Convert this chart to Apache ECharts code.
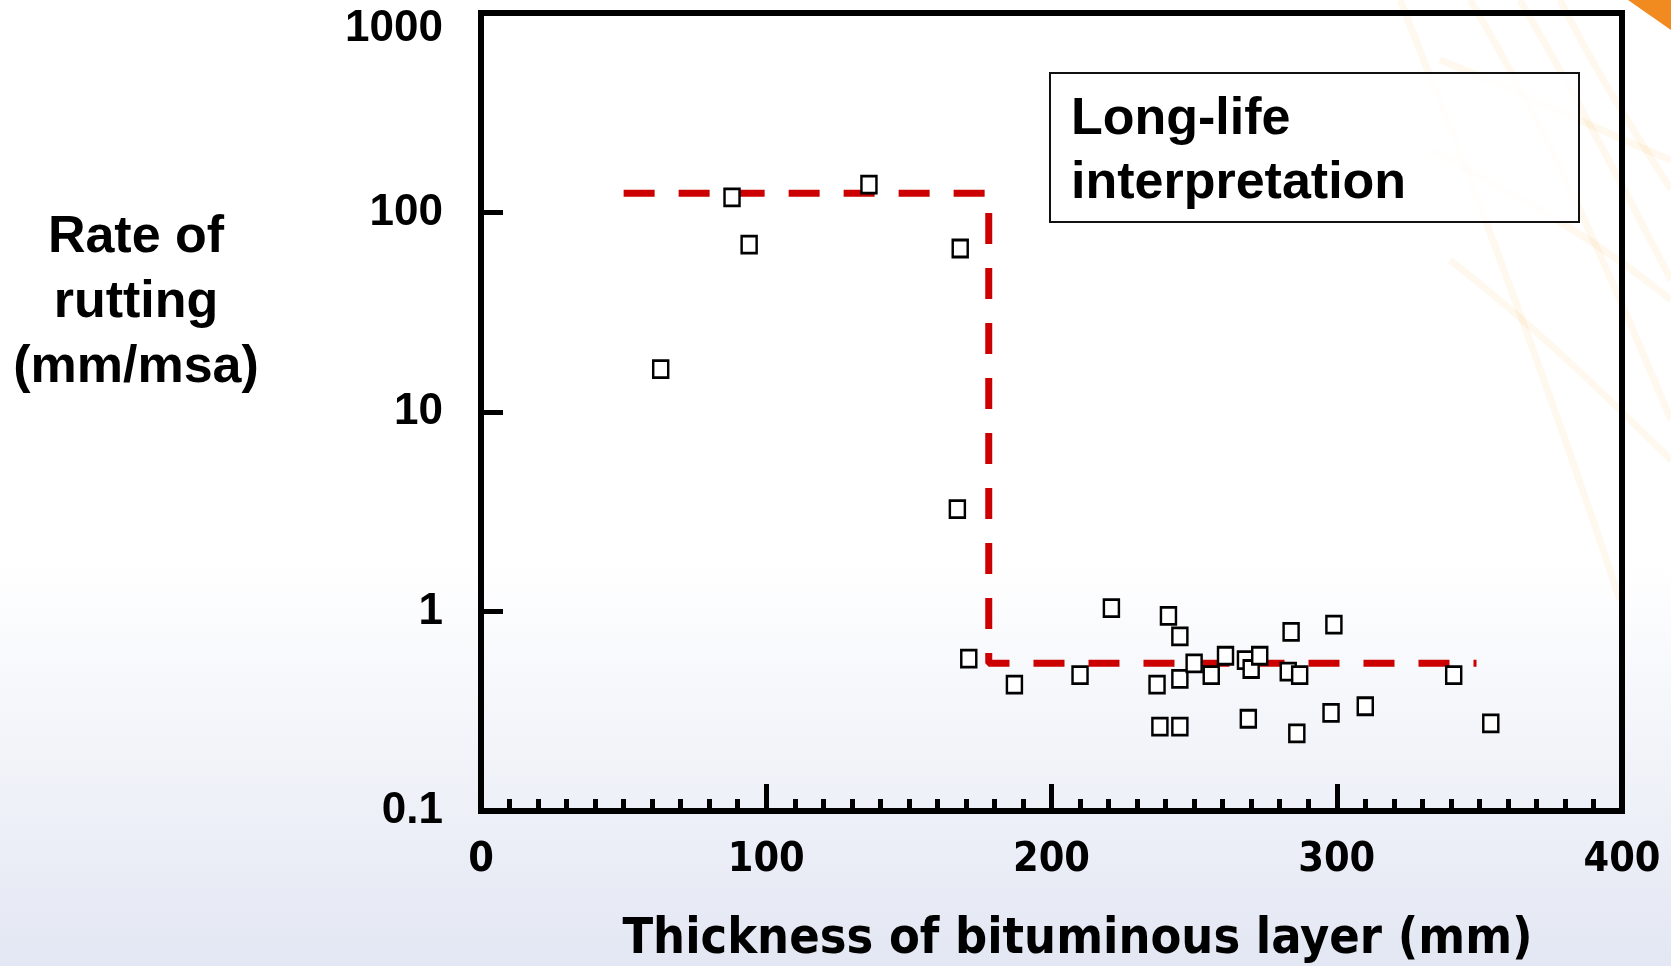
<!DOCTYPE html>
<html>
<head>
<meta charset="utf-8">
<script src="https://cdn.jsdelivr.net/npm/echarts@6/dist/echarts.min.js"></script>
<style>
html,body{margin:0;padding:0;width:1671px;height:966px;overflow:hidden;}
#c{width:1671px;height:966px;}
</style>
</head>
<body>
<div id="c"></div>
<script>
// Thickness of bituminous layer (mm) for each observed section
const thickness = [63, 88, 94, 136, 168, 167, 171, 187, 210, 221, 237, 238, 241, 245, 245, 245, 250, 256, 261, 268, 269, 270, 273, 284, 283, 286, 287, 299, 298, 310, 341, 354];
// Rate of rutting (mm/msa)
const rate = [16.4, 119, 69, 138, 66, 3.26, 0.58, 0.43, 0.48, 1.04, 0.43, 0.265, 0.95, 0.75, 0.46, 0.265, 0.55, 0.48, 0.60, 0.57, 0.29, 0.515, 0.60, 0.79, 0.50, 0.245, 0.48, 0.86, 0.31, 0.335, 0.48, 0.275];
// Long-life interpretation step line
const stepX = [50, 178, 178, 349];
const stepY = [125, 125, 0.55, 0.55];
// Axis settings
const xTicks = [0, 100, 200, 300, 400];
const yTicks = [0.1, 1, 10, 100, 1000];
const xTitle = 'Thickness of bituminous layer (mm)';
const yTitleLines = ['Rate of', 'rutting', '(mm/msa)'];
const boxLines = ['Long-life', 'interpretation'];

const points = thickness.map((t, i) => [t, rate[i]]);
const stepLine = stepX.map((x, i) => [x, stepY[i]]);

const chart = echarts.init(document.getElementById('c'));
const bold = 'Liberation Sans, Arial, sans-serif';
const narrow = 'Liberation Sans Narrow, DejaVu Sans Condensed, Arial Narrow, sans-serif';

const decoCurves = [];
const curveDefs = [
  [1470, 0, 1560, 150, 1620, 300, 1671, 420],
  [1520, 0, 1590, 120, 1640, 220, 1671, 280],
  [1440, 60, 1540, 100, 1620, 140, 1671, 160],
  [1430, 150, 1530, 200, 1610, 250, 1671, 300],
  [1450, 260, 1540, 330, 1610, 400, 1671, 460],
  [1560, 0, 1600, 80, 1640, 140, 1671, 190],
  [1400, 0, 1480, 200, 1560, 420, 1620, 600]
];
curveDefs.forEach(d => {
  decoCurves.push({
    type: 'bezierCurve', silent: true, z: -10,
    shape: {x1: d[0], y1: d[1], cpx1: d[2], cpy1: d[3], cpx2: d[4], cpy2: d[5], x2: d[6], y2: d[7]},
    style: {stroke: 'rgba(245,175,70,0.09)', lineWidth: 7, fill: null}
  });
});

chart.setOption({
  backgroundColor: new echarts.graphic.LinearGradient(0, 0, 0, 1, [
    {offset: 0, color: '#FFFFFF'},
    {offset: 0.58, color: '#FFFFFF'},
    {offset: 1, color: '#E3E7F3'}
  ]),
  animation: false,
  grid: {
    left: 481, top: 13, width: 1141, height: 798,
    outerBoundsMode: 'none', containLabel: false,
    show: true, borderColor: '#000', borderWidth: 6, backgroundColor: 'transparent'
  },
  xAxis: {
    type: 'value', min: xTicks[0], max: xTicks[xTicks.length - 1], interval: 100,
    axisLine: {show: true, lineStyle: {color: '#000', width: 6}},
    axisTick: {show: true, inside: true, length: 27, lineStyle: {color: '#000', width: 5}},
    minorTick: {show: true, splitNumber: 10, length: 12, lineStyle: {color: '#000', width: 5}},
    splitLine: {show: false},
    axisLabel: {
      color: '#000', fontSize: 41, fontWeight: 'bold', fontFamily: narrow, margin: 29
    },
    name: xTitle, nameLocation: 'middle', nameGap: 104,
    nameTextStyle: {color: '#000', fontSize: 50, fontWeight: 'bold', fontFamily: narrow, padding: [0, 0, 0, 52]}
  },
  yAxis: {
    type: 'log', logBase: 10, min: yTicks[0], max: yTicks[yTicks.length - 1],
    axisLine: {show: true, lineStyle: {color: '#000', width: 6}},
    axisTick: {show: true, inside: true, length: 22, lineStyle: {color: '#000', width: 5}},
    splitLine: {show: false},
    axisLabel: {
      color: '#000', fontSize: 44, fontWeight: 'bold', fontFamily: bold, margin: 38,
      formatter: function (v) {
        const s = v < 1 ? (Math.round(v * 10) / 10).toString() : String(Math.round(v));
        return v >= 999 ? '{top|' + s + '}' : s;
      },
      rich: {
        top: {color: '#000', fontSize: 44, fontWeight: 'bold', fontFamily: bold, padding: [32, 0, 0, 0]}
      }
    }
  },
  series: [
    {
      type: 'line', data: stepLine, symbol: 'none', z: 2,
      lineStyle: {color: '#CC0000', width: 7, type: [31, 24], cap: 'butt'}
    },
    {
      type: 'scatter', data: points, symbol: 'rect', symbolSize: [15, 17], z: 3,
      itemStyle: {color: '#FFFFFF', borderColor: '#000', borderWidth: 2.6, opacity: 1}
    }
  ],
  graphic: decoCurves.concat([
    {
      type: 'polygon', silent: true, z: -9,
      shape: {points: [[1628, 0], [1671, 0], [1671, 30]]},
      style: {fill: '#F18A1F'}
    },
    {
      type: 'text', left: 136 - 150, top: 205, silent: true,
      style: {
        text: yTitleLines.join('\n'), x: 150, width: 300, align: 'center',
        font: 'bold 52px ' + bold, fill: '#000', lineHeight: 65, textAlign: 'center'
      }
    },
    {
      type: 'rect', silent: true, z: 5,
      shape: {x: 1050, y: 73, width: 529, height: 149},
      style: {fill: 'rgba(255,255,255,0.85)', stroke: '#111', lineWidth: 2}
    },
    {
      type: 'text', silent: true, z: 6, x: 1071, y: 88,
      style: {text: boxLines.join('\n'), font: 'bold 52px ' + bold, fill: '#000', lineHeight: 64}
    }
  ])
});
</script>
</body>
</html>
